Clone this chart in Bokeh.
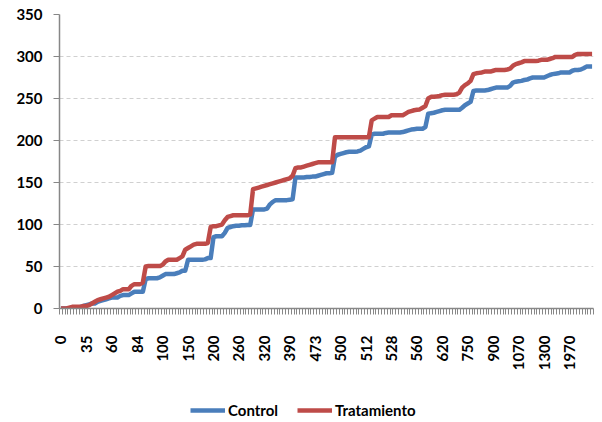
import math
from bokeh.plotting import figure
from bokeh.layouts import column
from bokeh.models import Range1d, FixedTicker, Legend, LegendItem
from bokeh.embed import file_html
from bokeh.resources import INLINE

# x-axis tick labels (one label every 9 categories)
x_labels = ["0", "35", "60", "84", "100", "150", "200", "260", "320", "390", "473",
            "500", "512", "528", "560", "620", "750", "900", "1070", "1300", "1970"]
label_every = 9

control = [
    0, 0, 0, 0, 0, 0, 1,
    2, 3, 4, 5, 6, 6,
    8, 9, 10, 11, 12, 13, 13, 13,
    15, 16, 16, 16, 18, 20, 20, 20, 20,
    35, 36, 36, 36, 36, 37,
    39, 41, 41, 41, 41, 42, 43, 45, 45,
    58, 58, 58, 58, 58, 58, 58.5,
    60, 60,
    85, 86, 86, 86,
    90, 96, 97, 98,
    98.5, 98.5, 99, 99, 99.5, 99.5,
    118, 118, 118, 118, 118, 119,
    124, 127,
    129, 129, 129, 129, 129, 129.5,
    130,
    156, 156, 156, 156, 156.5, 156.5, 157,
    157, 158, 159, 160, 161, 161, 161.5,
    181, 183, 184, 185, 186,
    186.5, 186.5, 186.5, 187, 188, 190, 192, 193,
    207, 208, 208, 208, 208, 209,
    209.5, 209.5, 209.5, 209.5, 209.5, 210,
    211, 212, 213, 213.5, 214, 214, 214, 216,
    232, 232.5, 233, 234, 235, 236, 236.5, 236.5, 236.5, 236.5, 236.5, 236.5, 239, 242, 244, 246,
    259, 259.5, 259.5, 259.5, 259.5, 260, 261, 262, 263, 263, 263, 263, 263,
    265, 269, 270, 270.5, 271, 272, 272.5, 274, 275, 275, 275, 275, 275,
    276.5, 278, 279, 279.5, 280, 281, 281, 281, 281, 283, 284, 284, 284.5, 286, 288, 288, 288,
]

tratamiento = [
    0, 0, 0,
    1,
    2, 2, 2, 2, 3,
    3, 4, 6, 8,
    10, 11, 12, 13, 14,
    16, 18, 20, 21, 23, 23, 23,
    27, 29, 29, 29, 31,
    50, 50.5, 50.5, 50.5, 50.5, 50.5,
    52, 56, 58, 58, 58, 58, 60, 62,
    70, 72, 74, 76,
    77, 77, 77, 77, 78,
    97, 98, 98, 99,
    100, 105, 109, 110, 111,
    111, 111, 111, 111, 111, 112,
    142, 143, 144, 145, 146, 147, 148, 149, 150, 151, 152, 153, 154, 155,
    158,
    167, 168, 168, 169, 170, 171, 172, 173,
    174, 174, 174, 174, 174, 174,
    204, 204, 204, 204, 204, 204, 204, 204, 204, 204, 204, 204, 204,
    224, 226, 228, 228, 228, 228, 228, 230, 230, 230, 230, 230,
    232, 234, 235, 236, 236.5, 237, 239, 241,
    250, 252, 252, 252.5, 253, 254, 254.5, 254.5, 254.5, 254.5, 255, 257,
    263, 266, 268, 271,
    279, 280, 280.5, 281, 282, 282, 282, 283, 284, 284, 284, 284, 284.5, 285.5,
    289, 291, 292, 293, 294.5, 294.5, 294.5, 294.5, 294.5, 295, 296, 296, 296, 297, 298,
    299.5, 299.5, 299.5, 299.5, 299.5, 299.5, 299.5,
    302, 303, 303, 303, 303, 303, 303,
]

series_names = ["Control", "Tratamiento"]
series_colors = ["#4A7EBB", "#BE4B48"]

n = len(control)
xs = list(range(n))

FONT = "Lato"
AXIS_COLOR = "#878787"
LW = 4.5

p = figure(width=602, height=390, output_backend="svg", toolbar_location=None,
           x_range=Range1d(-0.5, n - 0.5), y_range=Range1d(0, 350),
           min_border_left=59, min_border_right=9, min_border_top=14,
           min_border_bottom=82)
p.outline_line_color = None
p.background_fill_color = "white"
p.border_fill_color = "white"

r1 = p.line(xs, control, line_color=series_colors[0], line_width=LW, line_join="round")
r2 = p.line(xs, tratamiento, line_color=series_colors[1], line_width=LW, line_join="round")

# y axis
p.yaxis.ticker = FixedTicker(ticks=list(range(0, 351, 50)))
p.yaxis.axis_line_color = AXIS_COLOR
p.yaxis.axis_line_width = 1.5
p.yaxis.major_tick_line_color = AXIS_COLOR
p.yaxis.major_tick_out = 6
p.yaxis.major_tick_in = 0
p.yaxis.minor_tick_line_color = None
p.yaxis.major_label_standoff = 11
p.yaxis.major_label_text_font = FONT
p.yaxis.major_label_text_font_style = "bold"
p.yaxis.major_label_text_font_size = "15px"
p.yaxis.major_label_text_color = "black"

# x axis
tick_pos = [i * label_every for i in range(len(x_labels))]
p.xaxis.ticker = FixedTicker(ticks=tick_pos, minor_ticks=[i - 0.5 for i in range(n + 1)])
p.xaxis.major_label_overrides = {t: lab for t, lab in zip(tick_pos, x_labels)}
p.xaxis.major_label_orientation = math.pi / 2
p.xaxis.axis_line_color = AXIS_COLOR
p.xaxis.axis_line_width = 1.5
p.xaxis.major_tick_line_color = None
p.xaxis.major_tick_out = 0
p.xaxis.major_tick_in = 0
p.xaxis.minor_tick_line_color = AXIS_COLOR
p.xaxis.minor_tick_out = 6
p.xaxis.minor_tick_in = 0
p.xaxis.major_label_standoff = 21
p.xaxis.major_label_text_font = FONT
p.xaxis.major_label_text_font_style = "bold"
p.xaxis.major_label_text_font_size = "15px"
p.xaxis.major_label_text_color = "black"

p.xgrid.grid_line_color = None
p.ygrid.grid_line_color = "#D0D0D0"
p.ygrid.grid_line_dash = "4 3"
p.ygrid.grid_line_width = 1

# legend strip below the chart (its series lines lie outside its visible range)
lg = figure(width=602, height=32, output_backend="svg", toolbar_location=None,
            x_range=Range1d(-0.5, n - 0.5), y_range=Range1d(-2000, -1990),
            min_border_left=59, min_border_right=9, min_border_top=0, min_border_bottom=0)
lg.axis.visible = False
lg.grid.grid_line_color = None
lg.outline_line_color = None
lg.background_fill_alpha = 0
l1 = lg.line(xs, control, line_color=series_colors[0], line_width=LW)
l2 = lg.line(xs, tratamiento, line_color=series_colors[1], line_width=LW)
legend = Legend(items=[LegendItem(label=series_names[0], renderers=[l1]),
                       LegendItem(label=series_names[1], renderers=[l2])],
                orientation="horizontal", location=(131, 3),
                glyph_width=35, glyph_height=16, label_height=16,
                label_standoff=3, spacing=19, padding=0, margin=0,
                border_line_color=None, background_fill_alpha=0,
                label_text_font=FONT, label_text_font_style="bold",
                label_text_font_size="15px", label_text_color="black")
lg.add_layout(legend, "center")

layout = column(p, lg, spacing=0)
open("out.html", "w").write(file_html(layout, INLINE))
